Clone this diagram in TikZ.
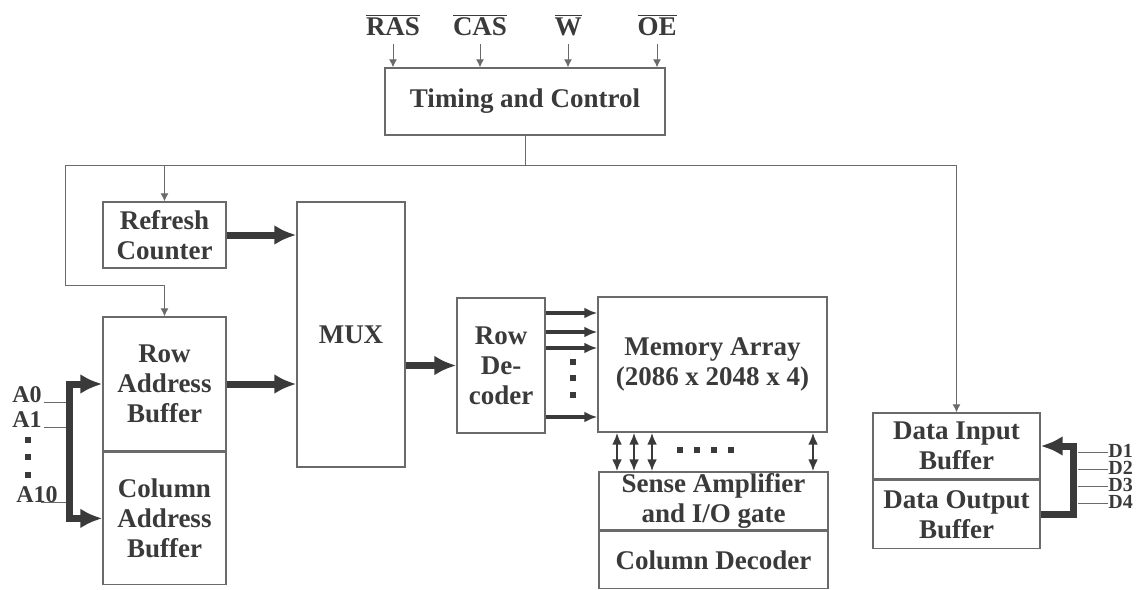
\documentclass[tikz,border=0pt]{standalone}
\usepackage{fontspec}
\setmainfont{Liberation Serif}
\usetikzlibrary{arrows.meta}
\definecolor{ink}{HTML}{3A3A3A}
\definecolor{wire}{HTML}{6A6A6A}

\begin{document}
\begin{tikzpicture}[x=0.5pt, y=-0.5pt,
    every node/.style={text=ink, font=\fontsize{13.5}{15}\selectfont\bfseries},
    blk/.style={draw=wire, line width=0.7pt, align=center, inner sep=0pt},
    ctl/.style={draw=wire, line width=0.5pt},
    ctlarrow/.style={ctl, -{Latex[length=4pt,width=4pt]}},
    bus/.style={draw=ink, line width=3.5pt, -{Latex[length=11pt,width=10pt]}},
    rowline/.style={draw=ink, line width=1.8pt, -{Latex[length=6.5pt,width=5.5pt]}},
    colline/.style={draw=ink, line width=1.2pt, {Latex[length=6pt,width=5pt]}-{Latex[length=6pt,width=5pt]}},
    albl/.style={font=\fontsize{12}{12}\selectfont\bfseries, inner sep=0pt},
    dlbl/.style={font=\fontsize{10}{10}\selectfont\bfseries, inner sep=0pt},
  ]
  \useasboundingbox (0,0) rectangle (1138,589);

  \node[blk, minimum width=140pt, minimum height=33.5pt] (timing) at (525,101.5) {Timing and Control};
  \foreach \nm/\x/\txt in {ras/393/RAS, cas/480/CAS, w/568/W, oe/657/OE}
    \node[inner sep=0pt] (\nm) at (\x,25) {$\overline{\mbox{\bfseries\txt}}$};
  \foreach \nm in {ras,cas,w,oe}
    \draw[ctlarrow] ([yshift=-4pt]\nm.south) -- (\nm.south |- timing.north);

  \node[blk, minimum width=61.5pt, minimum height=33pt] (refresh) at (164.5,235) {Refresh\\Counter};
  \node[blk, minimum width=54pt, minimum height=132.5pt] (mux) at (351,334.5) {MUX};
  \node[blk, minimum width=61.5pt, minimum height=67pt] (rowbuf) at (164.5,384) {Row\\Address\\Buffer};
  \node[blk, minimum width=61.5pt, minimum height=66pt, anchor=north] (colbuf) at (rowbuf.south) {Column\\Address\\Buffer};
  \node[blk, minimum width=44pt, minimum height=67.5pt] (rowdec) at (501,365.5) {Row\\De-\\coder};
  \node[blk, minimum width=114.5pt, minimum height=67.5pt] (memarr) at (712.5,364.5) {Memory Array\\(2086 x 2048 x 4)};
  \node[blk, minimum width=114.5pt, minimum height=29pt] (sense) at (713.5,501) {Sense Amplifier\\and I/O gate};
  \node[blk, minimum width=114.5pt, minimum height=28.5pt, anchor=north] (coldec) at (sense.south) {Column Decoder};
  \node[blk, minimum width=83.5pt, minimum height=33pt] (datain) at (956.5,446) {Data Input\\Buffer};
  \node[blk, minimum width=83.5pt, minimum height=34pt, anchor=north] (dataout) at (datain.south) {Data Output\\Buffer};

  \coordinate (cl) at (65,165);
  \draw[ctl] (timing.south) -- (timing.south |- cl);
  \draw[ctlarrow] (cl) -- (datain.north |- cl) -- (datain.north);
  \draw[ctlarrow] (refresh.north |- cl) -- (refresh.north);
  \draw[ctlarrow] (cl) -- ++(0,120) -| (rowbuf.north);

  \draw[bus] (refresh.east) -- (refresh.east -| mux.west);
  \draw[bus] (rowbuf.east) -- (rowbuf.east -| mux.west);
  \draw[bus] (mux.east |- rowdec.west) -- (rowdec.west);

  \foreach \y in {313,332,348,417}
    \draw[rowline] (rowdec.east |- 0,\y) -- (memarr.west |- 0,\y);
  \foreach \y in {362,378,395}
    \fill[ink] (570,\y-3) rectangle ++(6,6);

  \foreach \x in {617,634,652,813}
    \draw[colline] (memarr.south -| \x,0) -- (sense.north -| \x,0);
  \foreach \x in {680,697,714,731}
    \fill[ink] (\x-3,447) rectangle ++(6,6);

  \node[albl] (a0) at (27,395) {A0};
  \node[albl] (a1) at (27,420) {A1};
  \node[albl] (a10) at (37,495) {A10};
  \foreach \y in {440,457,475}
    \fill[ink] (25,\y-3) rectangle ++(6,6);
  \coordinate (abus) at (69,0);
  \draw[ctl] ([xshift=1pt,yshift=-3.5pt]a0.east) -- ([yshift=-3.5pt]a0.east -| abus);
  \draw[ctl] ([xshift=1pt,yshift=-3.5pt]a1.east) -- ([yshift=-3.5pt]a1.east -| abus);
  \draw[ctl] ([xshift=2pt,yshift=-3.5pt]a10.center) -- ([yshift=-3.5pt]a10.center -| abus);
  \draw[bus, {Latex[length=11pt,width=10pt]}-{Latex[length=11pt,width=10pt]}]
    (rowbuf.west) -- (rowbuf.west -| abus) -- (colbuf.west -| abus) -- (colbuf.west);

  \coordinate (dbus) at (1073,0);
  \draw[bus] (dataout.east) -- (dataout.east -| dbus) -- (datain.east -| dbus) -- (datain.east);
  \foreach \i/\y in {1/452,2/469,3/486,4/503} {
    \node[dlbl, anchor=west] (d\i) at (1108,\y-1.5) {D\i};
    \draw[ctl] ([yshift=-1pt]d\i.west) -- ++(-30,0);
  }
\end{tikzpicture}
\end{document}
